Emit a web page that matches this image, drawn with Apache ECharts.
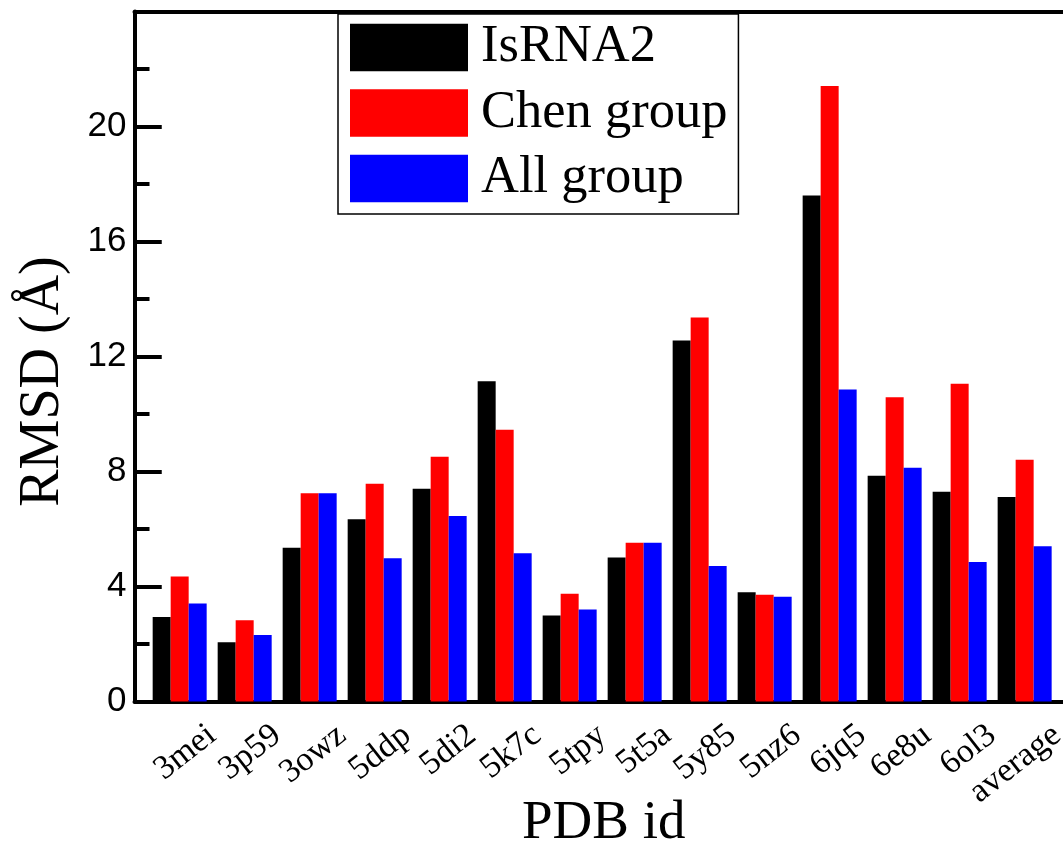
<!DOCTYPE html>
<html>
<head>
<meta charset="utf-8">
<script src="https://cdn.jsdelivr.net/npm/echarts@6/dist/echarts.min.js"></script>
<style>
html,body{margin:0;padding:0;background:#fff;}
#chart{width:1063px;height:844px;}
</style>
</head>
<body>
<div id="chart"></div>
<script>
const categories = ['3mei','3p59','3owz','5ddp','5di2','5k7c','5tpy','5t5a','5y85','5nz6','6jq5','6e8u','6ol3','average'];
const isRNA2   = [2.94, 2.06, 5.35, 6.34, 7.40, 11.14, 2.99, 5.01, 12.56, 3.80, 17.60, 7.85, 7.30, 7.11];
const chenGroup= [4.35, 2.83, 7.24, 7.57, 8.51, 9.45, 3.75, 5.52, 13.36, 3.71, 21.41, 10.58, 11.05, 8.41];
const allGroup = [3.41, 2.31, 7.24, 4.98, 6.45, 5.16, 3.20, 5.52, 4.71, 3.64, 10.85, 8.13, 4.85, 5.40];
const seriesNames = ['IsRNA2', 'Chen group', 'All group'];
const yTicks = [0, 4, 8, 12, 16, 20, 24];

const serif = '"Liberation Serif", "Times New Roman", serif';
const sans = '"Liberation Sans", Arial, sans-serif';
const colors = ['#000000', '#ff0000', '#0000ff'];
// label anchors sit half a category to the right of each group centre (right-aligned rotated text)
const labelPos = categories.map((c, i) => i + 0.5);
const toPts = arr => arr.map((v, i) => [i, v]);

// plot geometry
const gTop = 11.5, gBottom = 142.5, gLeft = 134.5;
const majorTickLen = 27;
const yMin = yTicks[0], yMax = yTicks[yTicks.length - 1], yStep = yTicks[1] - yTicks[0];

const chart = echarts.init(document.getElementById('chart'), null, {renderer: 'canvas'});
const axisLineStyle = {color: '#000', width: 4};
const tickStyle = {color: '#000', width: 4};
chart.setOption({
  animation: false,
  backgroundColor: '#fff',
  grid: [
    {left: gLeft, right: 0, top: gTop, bottom: gBottom, containLabel: false, outerBoundsMode: 'none'},
    // narrow strip along the left axis: its split lines act as the long inward major ticks
    {left: gLeft, width: majorTickLen, top: gTop, bottom: gBottom, containLabel: false, outerBoundsMode: 'none'}
  ],
  legend: {
    orient: 'vertical', left: 338, top: 14,
    padding: [7, 11, 9, 12],
    itemWidth: 118, itemHeight: 47.5, itemGap: 12.5,
    icon: 'rect',
    borderColor: '#000', borderWidth: 1.5,
    backgroundColor: '#fff',
    textStyle: {fontFamily: serif, fontSize: 52.5, color: '#000', padding: [0, 0, 0, 8]},
    data: seriesNames
  },
  xAxis: [{
    type: 'value', gridIndex: 0, min: -0.695, max: 13.59,
    axisLine: {show: true, lineStyle: axisLineStyle, onZero: false},
    axisTick: {show: false},
    splitLine: {show: false},
    axisLabel: {
      customValues: labelPos,
      formatter: v => categories[Math.floor(v + 1e-6)],
      rotate: 38, align: 'right', verticalAlign: 'middle',
      margin: 30, fontFamily: serif, fontSize: 34, color: '#000'
    },
    name: 'PDB id', nameLocation: 'middle', nameGap: 95, nameMoveOverlap: false,
    nameTextStyle: {fontFamily: serif, fontSize: 55, color: '#000', padding: [0, 0, 0, 10]}
  }, {
    type: 'value', gridIndex: 0, position: 'top', min: -0.695, max: 13.59,
    axisLine: {show: true, lineStyle: axisLineStyle, onZero: false},
    axisTick: {show: false}, axisLabel: {show: false}, splitLine: {show: false}
  }, {
    type: 'value', gridIndex: 1, min: 0, max: 1, show: false
  }],
  yAxis: [{
    type: 'value', gridIndex: 0, min: yMin, max: yMax, interval: yStep,
    axisLine: {show: true, onZero: false, lineStyle: axisLineStyle},
    axisTick: {show: true, inside: true, length: majorTickLen, lineStyle: tickStyle},
    minorTick: {show: true, splitNumber: 2, length: 15, lineStyle: tickStyle},
    splitLine: {show: false},
    axisLabel: {showMaxLabel: false, margin: 8, fontFamily: sans, fontSize: 35, color: '#000'},
    name: 'RMSD (Å)', nameLocation: 'middle', nameRotate: 90, nameGap: 63, nameMoveOverlap: false,
    nameTextStyle: {fontFamily: serif, fontSize: 56, color: '#000', padding: [0, 50, 0, 0]}
  }, {
    type: 'value', gridIndex: 1, position: 'left', min: yMin, max: yMax, interval: yStep,
    axisLine: {show: false, onZero: false},
    axisTick: {show: false},
    axisLabel: {show: false},
    splitLine: {show: true, lineStyle: {color: '#000', width: 4, type: 'solid'}}
  }],
  series: [
    {name: seriesNames[0], type: 'bar', data: toPts(isRNA2), barWidth: 18, barGap: '0%', itemStyle: {color: colors[0]}},
    {name: seriesNames[1], type: 'bar', data: toPts(chenGroup), barWidth: 18, barGap: '0%', itemStyle: {color: colors[1]}},
    {name: seriesNames[2], type: 'bar', data: toPts(allGroup), barWidth: 18, barGap: '0%', itemStyle: {color: colors[2]}}
  ]
});
</script>
</body>
</html>
